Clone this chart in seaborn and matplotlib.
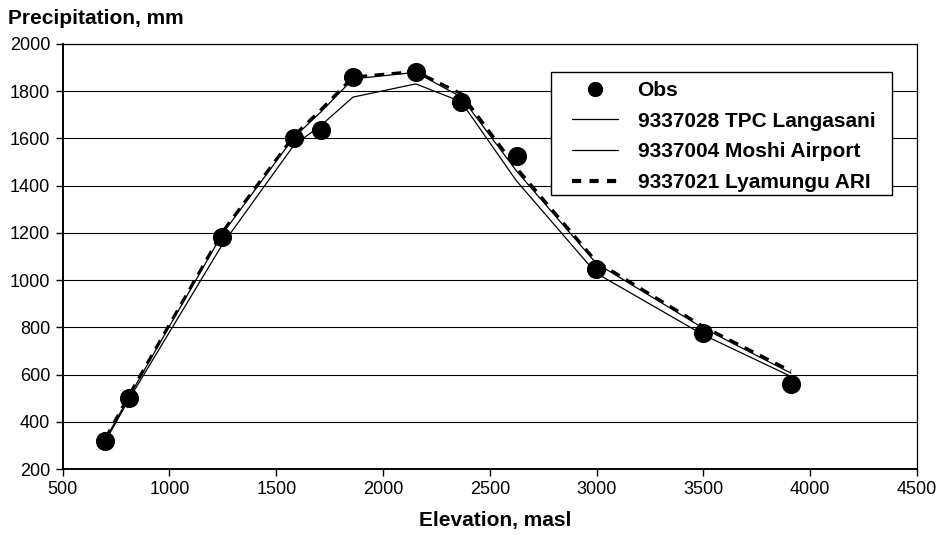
import matplotlib
matplotlib.use("Agg")
import matplotlib.pyplot as plt
import seaborn as sns
import pandas as pd
from matplotlib.lines import Line2D
from matplotlib.patches import Rectangle

# ---- data ----
elevation = [700, 810, 1247, 1583, 1709, 1859, 2153, 2365, 2625, 2997, 3500, 3910]
obs = [318, 502, 1183, 1600, 1636, 1861, 1880, 1756, 1526, 1046, 778, 560]
tpc_langasani = [325, 505, 1195, 1605, 1712, 1852, 1880, 1776, 1462, 1072, 796, 606]
moshi_airport = [318, 495, 1150, 1572, 1655, 1775, 1831, 1756, 1420, 1030, 768, 592]
lyamungu_ari = [330, 512, 1203, 1612, 1722, 1860, 1884, 1790, 1475, 1080, 803, 615]

labels = ["Obs", "9337028 TPC Langasani", "9337004 Moshi Airport", "9337021 Lyamungu ARI"]
x_ticks = [500, 1000, 1500, 2000, 2500, 3000, 3500, 4000, 4500]
y_ticks = [200, 400, 600, 800, 1000, 1200, 1400, 1600, 1800, 2000]

df = pd.DataFrame({"elev": elevation, "obs": obs, "tpc": tpc_langasani,
                   "moshi": moshi_airport, "lyam": lyamungu_ari})

sns.set_style("white")
plt.rcParams["font.family"] = ["Liberation Sans", "DejaVu Sans"]
plt.rcParams["text.color"] = "black"
plt.rcParams["xtick.color"] = "black"
plt.rcParams["ytick.color"] = "black"
plt.rcParams["axes.labelcolor"] = "black"

fig = plt.figure(figsize=(9.4, 5.35), dpi=100)
ax = fig.add_axes([62.7 / 940, 1 - 469 / 535, (917 - 62.7) / 940, (469 - 44) / 535])

sns.lineplot(data=df, x="elev", y="tpc", ax=ax, color="black", lw=0.9, zorder=3)
sns.lineplot(data=df, x="elev", y="moshi", ax=ax, color="black", lw=0.9, zorder=3)
sns.lineplot(data=df, x="elev", y="lyam", ax=ax, color="black", lw=2.2, zorder=4,
             dashes=False, linestyle=(0, (3.2, 2.4)))
sns.scatterplot(data=df, x="elev", y="obs", ax=ax, color="black", s=190,
                edgecolor="black", linewidth=0, zorder=6)

ax.set_xlim(500, 4500)
ax.set_ylim(200, 2000)
ax.set_xticks(x_ticks)
ax.set_yticks(y_ticks)
ax.set_xticklabels([str(v) for v in x_ticks], fontsize=13)
ax.set_yticklabels([str(v) for v in y_ticks], fontsize=13)
ax.tick_params(axis="both", direction="out", length=5, width=1, color="black",
               labelcolor="black", bottom=True, left=True, pad=4)
ax.set_xlabel("")
ax.set_ylabel("")
ax.yaxis.grid(True, color="black", lw=0.8)
ax.xaxis.grid(False)
ax.set_axisbelow(True)
for side in ["left", "bottom"]:
    ax.spines[side].set_color("black")
    ax.spines[side].set_linewidth(1.4)
for side in ["right", "top"]:
    ax.spines[side].set_color("black")
    ax.spines[side].set_linewidth(0.9)

fig.text(8 / 940, 1 - 24 / 535, "Precipitation, mm", fontsize=15,
         fontweight="bold", ha="left", va="baseline", color="black")
fig.text(495 / 940, 1 - 526 / 535, "Elevation, masl", fontsize=15,
         fontweight="bold", ha="center", va="baseline", color="black")

# legend frame drawn explicitly (wide horizontal padding, tight vertical)
frame = Rectangle((551 / 940, 1 - 195 / 535), (892 - 551) / 940, (195 - 72) / 535,
                  transform=fig.transFigure, facecolor="white", edgecolor="black",
                  lw=1.0, zorder=9)
ax.add_artist(frame)
frame.set_clip_on(False)

handles = [
    Line2D([], [], marker="o", color="black", linestyle="none", markersize=10),
    Line2D([], [], color="black", lw=0.9),
    Line2D([], [], color="black", lw=0.9),
    Line2D([], [], color="black", lw=3, linestyle=(0, (2.2, 2.0))),
]
leg = ax.legend(handles, labels, loc="upper left",
                bbox_to_anchor=(572 / 940, 1 - 81 / 535),
                bbox_transform=fig.transFigure, frameon=False,
                prop={"family": "Liberation Sans", "weight": "bold", "size": 15},
                handlelength=2.2, handletextpad=0.95, labelspacing=0.56,
                borderpad=0, borderaxespad=0)
for t in leg.get_texts():
    t.set_color("black")
leg.set_zorder(10)

fig.savefig("out.png", dpi=100, facecolor="white")
